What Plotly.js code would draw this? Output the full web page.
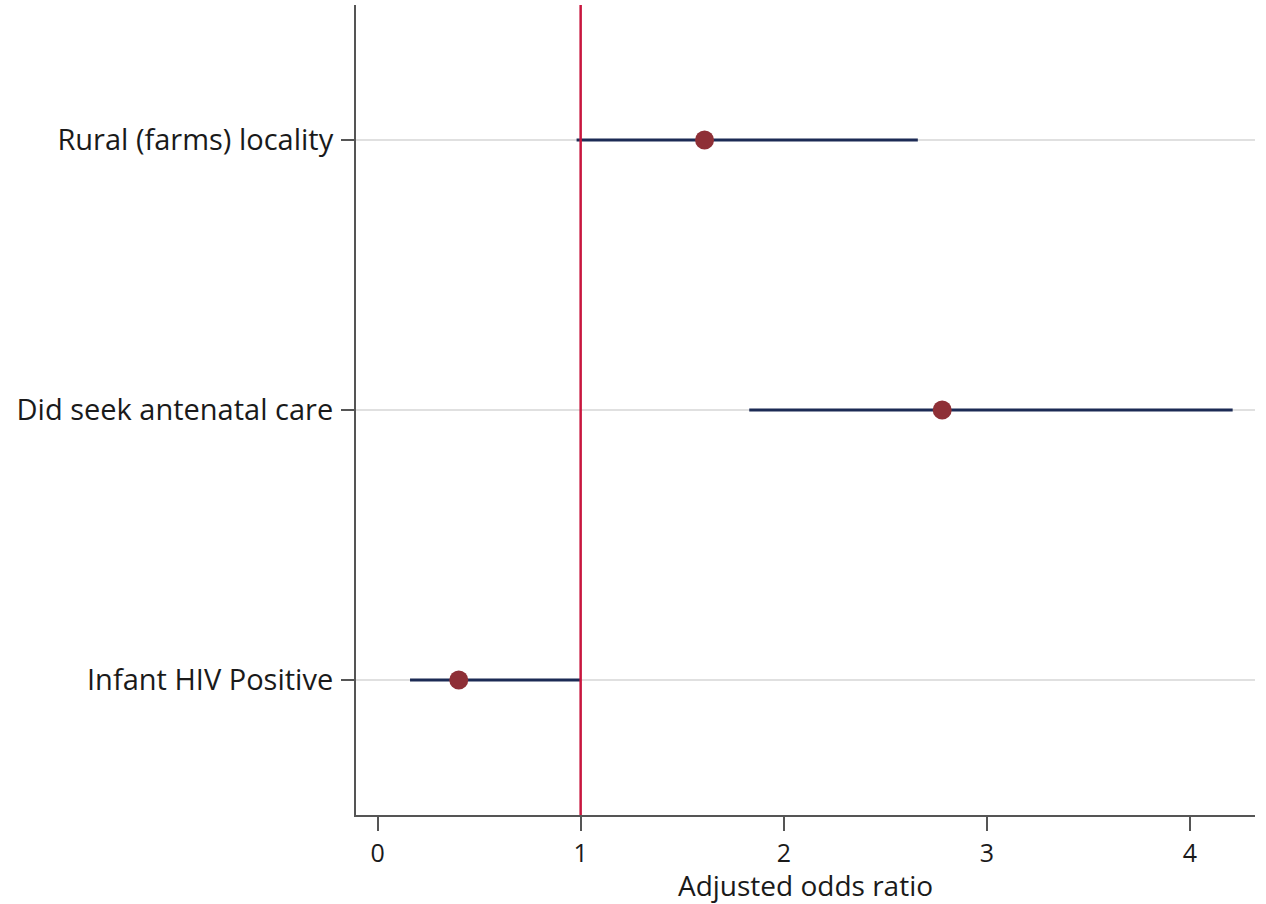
<!DOCTYPE html>
<html>
<head>
<meta charset="utf-8">
<script src="https://cdn.plot.ly/plotly-3.0.1.min.js"></script>
<style>html,body{margin:0;padding:0;background:#fff;}#chart{width:1266px;height:904px;}</style>
</head>
<body>
<div id="chart"></div>
<script>
const categories = ["Rural (farms) locality", "Did seek antenatal care", "Infant HIV Positive"];
const rowPositions = [3, 2, 1];
const oddsRatio = [1.61, 2.78, 0.40];
const ciLower = [0.98, 1.83, 0.16];
const ciUpper = [2.66, 4.21, 1.00];
const xTickVals = [0, 1, 2, 3, 4];
const refValue = 1;

const trace = {
  type: "scatter",
  mode: "markers",
  x: oddsRatio,
  y: rowPositions,
  marker: {color: "#8e2f36", size: 19},
  error_x: {
    type: "data",
    symmetric: false,
    array: oddsRatio.map((v, i) => ciUpper[i] - v),
    arrayminus: oddsRatio.map((v, i) => v - ciLower[i]),
    color: "#1c2b55",
    thickness: 3,
    width: 0
  },
  hoverinfo: "x+y",
  showlegend: false
};

const fam = "'Open Sans', 'Noto Sans', sans-serif";
const txt = "#1a1a1a";

const layout = {
  width: 1266, height: 904,
  margin: {l: 356, r: 11, t: 5, b: 89},
  paper_bgcolor: "#fff", plot_bgcolor: "#fff",
  font: {family: fam, color: txt},
  showlegend: false,
  xaxis: {
    range: [-0.106, 4.32],
    tickvals: xTickVals,
    ticktext: xTickVals.map(String),
    showgrid: false,
    zeroline: false,
    showline: true, linecolor: "#555", linewidth: 2,
    ticks: "outside", ticklen: 14, tickwidth: 2, tickcolor: "#555",
    ticklabelstandoff: 1,
    tickfont: {size: 25, family: fam, color: txt},
    title: {text: "Adjusted odds ratio", font: {size: 28, family: fam, color: txt}, standoff: 3}
  },
  yaxis: {
    range: [0.5, 3.5],
    tickvals: rowPositions,
    ticktext: categories,
    showgrid: true, gridcolor: "#e0e0e0", gridwidth: 2,
    zeroline: false,
    showline: true, linecolor: "#555", linewidth: 2,
    ticks: "outside", ticklen: 13, tickwidth: 2, tickcolor: "#555",
    ticklabelstandoff: 2,
    tickfont: {size: 29, family: fam, color: txt}
  },
  shapes: [{
    type: "line", xref: "x", yref: "paper",
    x0: refValue, x1: refValue, y0: 0, y1: 1,
    line: {color: "#c8163e", width: 2.5},
    layer: "above"
  }]
};

Plotly.newPlot("chart", [trace], layout, {displayModeBar: false, staticPlot: true});
</script>
</body>
</html>
